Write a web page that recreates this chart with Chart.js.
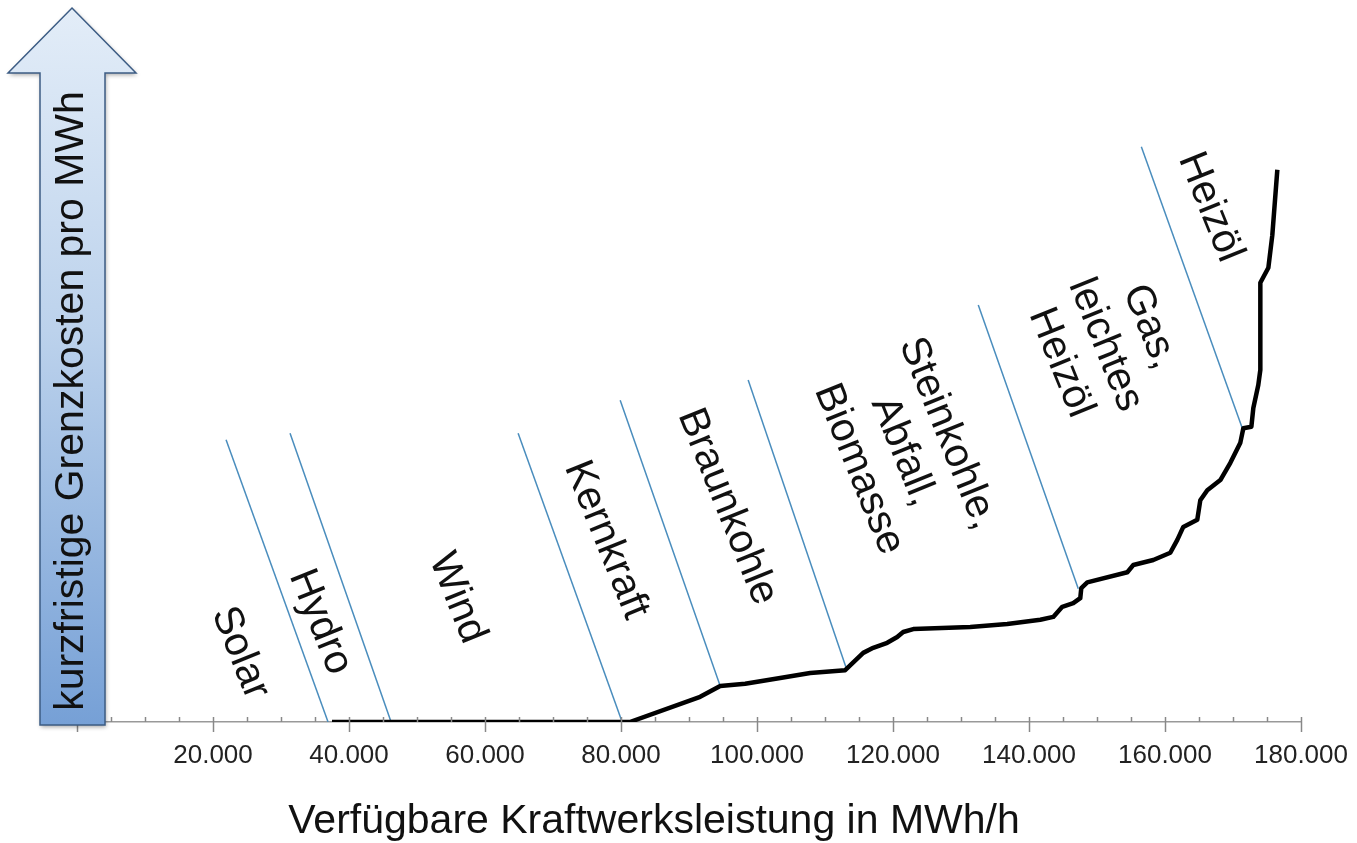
<!DOCTYPE html>
<html>
<head>
<meta charset="utf-8">
<script src="https://cdn.jsdelivr.net/npm/chart.js@4.4.0/dist/chart.umd.min.js"></script>
<style>
	html, body { margin: 0; padding: 0; background: #fff; }
	#wrap { width: 1357px; height: 843px; }
</style>
</head>
<body>
<div id="wrap"><canvas id="mycanvas" width="1357" height="843"></canvas></div>
<script>
// merit order curve (x = MWh/h, y = relative marginal cost)
var curveX = [37500, 81300, 91640, 94590, 98260, 103410, 107820, 112970, 115620, 117090, 119150, 120620, 121500, 122980, 131360, 136800, 141660, 143570, 144890, 146510, 147540, 147690, 148570, 154460, 155340, 158280, 160780, 161810, 162690, 164750, 165190, 166220, 168140, 169610, 171080, 171520, 172700, 172990, 173720, 174020, 174020, 175200, 175780, 176520];
var curveY = [0, 0, 3.5, 5.0, 5.3, 6.1, 6.8, 7.2, 9.6, 10.3, 11.0, 11.8, 12.5, 12.9, 13.2, 13.6, 14.2, 14.6, 16.0, 16.5, 17.2, 18.6, 19.4, 20.8, 21.8, 22.5, 23.5, 25.3, 27.1, 28.1, 30.8, 32.2, 33.6, 36.0, 38.8, 40.8, 41.0, 43.6, 46.8, 48.9, 61.0, 63.1, 67.6, 76.7];

// blue separator lines between technologies
var sepTopX = [21920, 31330, 64870, 79880, 98700, 132540, 156520];
var sepTopY = [39.2, 40.1, 40.1, 44.7, 47.5, 57.9, 79.9];
var sepBottomX = [36920, 46190, 80170, 94590, 113120, 147250, 171370];
var sepBottomY = [0, 0, 0, 5.0, 7.5, 18.5, 40.8];

// technology names
var techNames = ["Solar", "Hydro", "Wind", "Kernkraft", "Braunkohle", "Steinkohle,\nAbfall,\nBiomasse", "Gas,\nleichtes\nHeizöl", "Heizöl"];
var techX = [23980, 35750, 55900, 77820, 95620, 121500, 151220, 166660];
var techY = [9.6, 13.9, 17.2, 25.3, 29.9, 37.6, 52.4, 71.5];

var xLabelValues = [20000, 40000, 60000, 80000, 100000, 120000, 140000, 160000, 180000];

var FONT = "'Liberation Sans', Arial, sans-serif";

var datasets = [];
var pts = [];
for (var i in curveX) pts.push({x: curveX[i], y: curveY[i]});
datasets.push({
	data: pts,
	borderColor: '#000',
	borderWidth: 4.5,
	pointRadius: 0,
	tension: 0,
	borderJoinStyle: 'round',
	order: 0
});
for (var j in sepTopX) {
	datasets.push({
		data: [{x: sepTopX[j], y: sepTopY[j]}, {x: sepBottomX[j], y: sepBottomY[j]}],
		borderColor: '#4a8dbd',
		borderWidth: 1.5,
		pointRadius: 0,
		order: 1
	});
}

function fmt(v) {
	return String(v).replace(/\B(?=(\d{3})+(?!\d))/g, '.');
}

// ticks, labels of the segments and the arrow used as y axis
var decor = {
	id: 'decor',
	afterDatasetsDraw: function(chart) {
		var ctx = chart.ctx;
		var xs = chart.scales.x, ys = chart.scales.y;
		ctx.save();
		ctx.fillStyle = '#111';
		ctx.font = '41px ' + FONT;
		ctx.textAlign = 'center';
		ctx.textBaseline = 'middle';
		for (var k in techNames) {
			var px = xs.getPixelForValue(techX[k]);
			var py = ys.getPixelForValue(techY[k]);
			var lines = techNames[k].split('\n');
			ctx.save();
			ctx.translate(px, py);
			ctx.rotate(68 * Math.PI / 180);
			var lh = 48;
			for (var l = 0; l < lines.length; l++) {
				ctx.fillText(lines[l], 0, (l - (lines.length - 1) / 2) * lh);
			}
			ctx.restore();
		}
		ctx.restore();
	},
	afterDraw: function(chart) {
		var ctx = chart.ctx;
		var xs = chart.scales.x;
		var area = chart.chartArea;
		var base = area.bottom;

		// tick marks
		ctx.save();
		ctx.strokeStyle = '#888';
		ctx.lineWidth = 1.5;
		xs.ticks.forEach(function(t) {
			var px = Math.round(xs.getPixelForValue(t.value)) + 0.5;
			ctx.beginPath();
			if (t.value % 20000 === 0) {
				ctx.moveTo(px, base - 5);
				ctx.lineTo(px, base + 10);
			} else {
				ctx.moveTo(px, base - 5);
				ctx.lineTo(px, base);
			}
			ctx.stroke();
		});

		// axis title
		ctx.fillStyle = '#111';
		ctx.font = '41px ' + FONT;
		ctx.textAlign = 'center';
		ctx.textBaseline = 'middle';
		ctx.fillText('Verfügbare Kraftwerksleistung in MWh/h', 654, base + 100);
		ctx.restore();

		// arrow
		var cx = area.left - 4;
		var shaftL = cx - 33, shaftR = cx + 32;
		var headL = cx - 65, headR = cx + 63;
		var tipY = 8, headY = 73, bottom = base + 3;
		ctx.save();
		ctx.beginPath();
		ctx.moveTo(cx - 1, tipY);
		ctx.lineTo(headR, headY);
		ctx.lineTo(shaftR, headY);
		ctx.lineTo(shaftR, bottom);
		ctx.lineTo(shaftL, bottom);
		ctx.lineTo(shaftL, headY);
		ctx.lineTo(headL, headY);
		ctx.closePath();
		var grad = ctx.createLinearGradient(0, tipY, 0, bottom);
		grad.addColorStop(0, '#e3edf8');
		grad.addColorStop(0.45, '#bcd2ec');
		grad.addColorStop(1, '#76a0d6');
		ctx.shadowColor = 'rgba(0,0,0,0.35)';
		ctx.shadowBlur = 4;
		ctx.shadowOffsetX = 1;
		ctx.shadowOffsetY = 2;
		ctx.fillStyle = grad;
		ctx.fill();
		ctx.shadowColor = 'transparent';
		ctx.strokeStyle = '#3c5c84';
		ctx.lineWidth = 1.5;
		ctx.stroke();

		ctx.translate(cx - 1, (headY + bottom) / 2 + 2);
		ctx.rotate(-Math.PI / 2);
		ctx.fillStyle = '#111';
		ctx.font = '41px ' + FONT;
		ctx.textAlign = 'center';
		ctx.textBaseline = 'middle';
		ctx.fillText('kurzfristige Grenzkosten pro MWh', 0, 0);
		ctx.restore();
	}
};

var ctx = document.getElementById('mycanvas');
var chart = new Chart(ctx, {
	type: 'line',
	data: { datasets: datasets },
	plugins: [decor],
	options: {
		responsive: false,
		animation: false,
		layout: { padding: { left: 77, right: 56, top: 2, bottom: 0 } },
		plugins: { legend: { display: false }, tooltip: { enabled: false } },
		scales: {
			x: {
				type: 'linear',
				min: 0,
				max: 180000,
				grid: { display: false, drawTicks: false },
				border: { display: true, color: '#999', width: 1.5 },
				afterFit: function(scale) {
					scale.height = 121;
					scale.paddingLeft = 0;
					scale.paddingRight = 0;
				},
				ticks: {
					stepSize: 5000,
					autoSkip: false,
					maxRotation: 0,
					padding: 18,
					color: '#222',
					font: { family: FONT, size: 26 },
					callback: function(v) {
						return xLabelValues.indexOf(v) >= 0 ? fmt(v) : '';
					}
				}
			},
			y: {
				display: false,
				min: 0,
				max: 100
			}
		}
	}
});
</script>
</body>
</html>
